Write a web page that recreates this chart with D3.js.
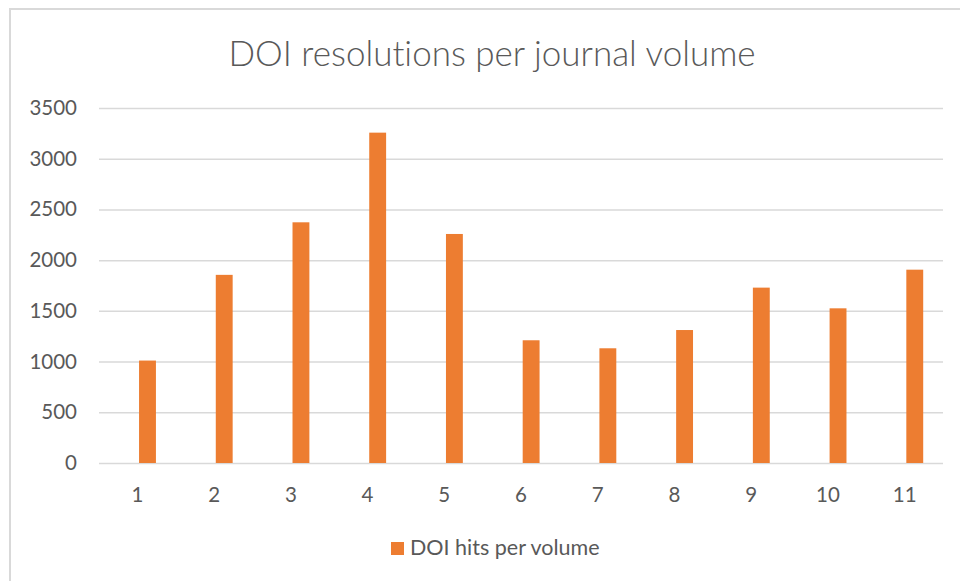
<!DOCTYPE html>
<html>
<head>
<meta charset="utf-8">
<script src="https://cdn.jsdelivr.net/npm/d3@7"></script>
<style>
  html, body { margin: 0; padding: 0; background: #ffffff; }
  svg { display: block; font-family: Lato, "Open Sans", sans-serif; font-variant-ligatures: none; }
</style>
</head>
<body>
<script>
const volumes = ["1", "2", "3", "4", "5", "6", "7", "8", "9", "10", "11"];
const hits = [1010, 1855, 2373, 3257, 2258, 1210, 1131, 1311, 1729, 1525, 1906];
const yTicks = [0, 500, 1000, 1500, 2000, 2500, 3000, 3500];
const seriesName = "DOI hits per volume";
const chartTitle = "DOI resolutions per journal volume";

const width = 960;
const height = 581;
const margin = {top: 108, right: 17, bottom: 118, left: 99};
const barColor = "#ED7D31";
const textColor = "#595959";
const gridColor = "#d9d9d9";

const svg = d3.select("body").append("svg")
    .attr("width", width)
    .attr("height", height);

// chart frame, runs off the right and bottom edge
svg.append("rect")
    .attr("x", 10)
    .attr("y", 9)
    .attr("width", 980)
    .attr("height", 600)
    .attr("fill", "#ffffff")
    .attr("stroke", gridColor)
    .attr("stroke-width", 2);

svg.append("text")
    .attr("x", 492)
    .attr("y", 66)
    .attr("text-anchor", "middle")
    .attr("fill", textColor)
    .attr("font-size", 35)
    .attr("font-weight", 300)
    .text(chartTitle);

// one band per volume, labels sit at band centre
const x = d3.scaleBand()
    .domain(volumes)
    .range([margin.left, width - margin.right])
    .padding(0);

const barW = x.bandwidth() * 0.22;
// bar sits just right of the category centre (like a clustered excel bar)
const barX = v => x(v) + x.bandwidth() / 2 + barW * 0.1;

const y = d3.scaleLinear()
    .domain([0, 3500])
    .range([height - margin.bottom, margin.top]);

// gridlines + y labels
const yAxis = d3.axisLeft(y)
    .tickValues(yTicks)
    .tickFormat(d3.format("d"))
    .tickSize(-(width - margin.left - margin.right))
    .tickPadding(22);

const gy = svg.append("g")
    .attr("transform", "translate(" + margin.left + ",0)")
    .call(yAxis);
gy.select(".domain").remove();
gy.selectAll(".tick line")
    .attr("stroke", gridColor)
    .attr("stroke-width", 1.5);
gy.selectAll(".tick text")
    .attr("fill", textColor)
    .attr("font-size", 20.5)
    .attr("font-family", "Lato, sans-serif");

// bars
svg.append("g")
    .selectAll("rect")
    .data(hits)
    .join("rect")
    .attr("x", (d, i) => barX(volumes[i]))
    .attr("y", d => y(d))
    .attr("width", barW)
    .attr("height", d => y(0) - y(d))
    .attr("fill", barColor);

// x labels
const xAxis = d3.axisBottom(x).tickSize(0).tickPadding(24);
const gx = svg.append("g")
    .attr("transform", "translate(0," + y(0) + ")")
    .call(xAxis);
gx.select(".domain").remove();
gx.selectAll(".tick text")
    .attr("fill", textColor)
    .attr("font-size", 20.5)
    .attr("font-family", "Lato, sans-serif");

// legend
const legend = svg.append("g")
    .attr("transform", "translate(391,542)");
legend.append("rect")
    .attr("width", 13)
    .attr("height", 13)
    .attr("fill", barColor);
legend.append("text")
    .attr("x", 19)
    .attr("y", 13)
    .attr("fill", textColor)
    .attr("font-size", 21.5)
    .text(seriesName);
</script>
</body>
</html>
